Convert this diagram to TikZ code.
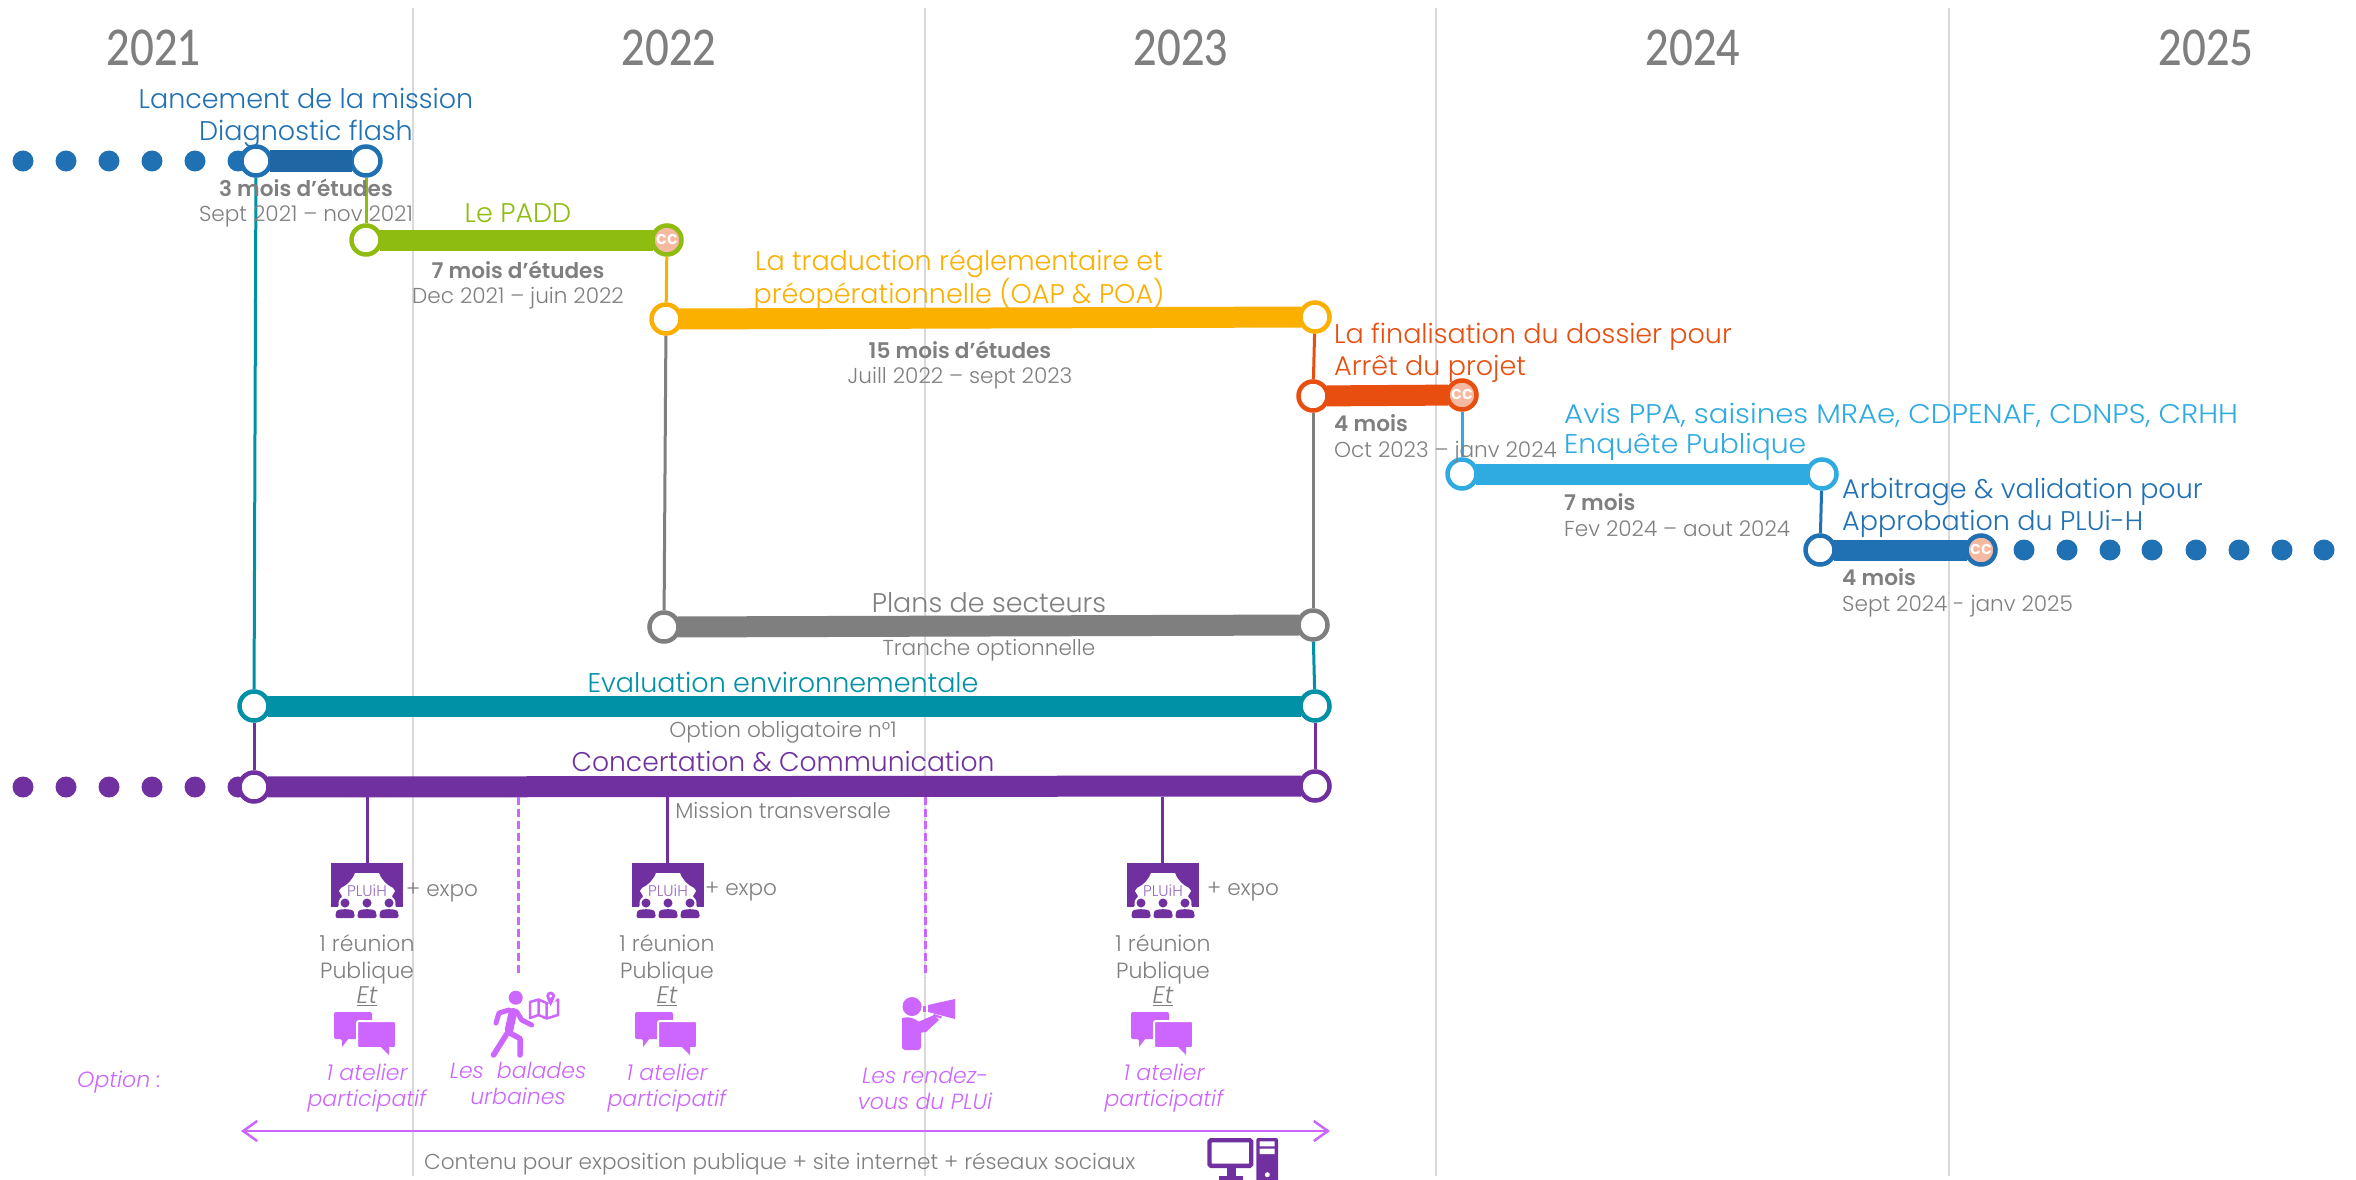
\documentclass[tikz,border=0pt]{standalone}
\usepackage{fontspec}
\setmainfont{Poppins}[UprightFont=* Light,BoldFont=* SemiBold,ItalicFont=* Light Italic]
\newfontfamily\yearfont{Lato Medium}
\usetikzlibrary{arrows.meta}
\definecolor{cblue}{HTML}{2070B4}
\definecolor{cbar}{HTML}{1F66A4}
\definecolor{cgreen}{HTML}{8FBC11}
\definecolor{corange}{HTML}{FBB000}
\definecolor{cred}{HTML}{E84E0F}
\definecolor{clight}{HTML}{2FABE2}
\definecolor{cgray}{HTML}{7F7F7F}
\definecolor{cteal}{HTML}{0091A6}
\definecolor{cpurple}{HTML}{7030A0}
\definecolor{cviolet}{HTML}{CC66FF}
\definecolor{cpeach}{HTML}{F5B8A0}
\definecolor{cgrid}{HTML}{D9D9D9}
\tikzset{
  ring/.style={circle,draw=#1,line width=4.5pt,fill=white,minimum size=29pt,inner sep=0pt},
  ccring/.style={circle,draw=#1,line width=4.5pt,fill=cpeach,minimum size=29pt,inner sep=0pt,text=white,font=\fontsize{18}{18}\selectfont\bfseries},
  dot/.style={circle,fill=#1,minimum size=21pt,inner sep=0pt},
  bar/.style={line width=21pt,draw=#1,shorten >=-3pt,shorten <=-3pt},
  link/.style={line width=3pt,draw=#1},
  grid/.style={line width=2.5pt,draw=cgrid},
  year/.style={text=cgray,font=\fontsize{49}{49}\selectfont\yearfont,xscale=.84,inner sep=0pt},
  title/.style={text=#1,font=\fontsize{27}{32}\selectfont,align=center,inner sep=0pt},
  lefttitle/.style={text=#1,font=\fontsize{27}{32}\selectfont,align=left,anchor=west,inner sep=0pt},
  sub/.style={text=cgray,font=\fontsize{21.6}{25.5}\selectfont,align=center,inner sep=0pt},
  leftsub/.style={text=cgray,font=\fontsize{21.6}{25.5}\selectfont,align=left,anchor=west,inner sep=0pt},
  small/.style={text=cgray,font=\fontsize{22}{27}\selectfont,align=center,inner sep=0pt},
  opt/.style={text=cviolet,font=\fontsize{22}{26}\selectfont\itshape,align=center,inner sep=0pt},
  theatre/.pic={
    \fill[cpurple] (-36,0) rectangle (36,44);
    \fill[white] (-12,10) -- (12,10) .. controls (15,18) and (20,22) .. (26,25) -- (28,28) -- (25,33) -- (29,44) -- (-29,44) -- (-25,33) -- (-28,28) -- (-26,25) .. controls (-20,22) and (-15,18) .. (-12,10) -- cycle;
    \node[text=cpurple!70,font=\fontsize{15.5}{15.5}\selectfont,inner sep=0pt] at (0,28) {PLUiH};
    \foreach \p in {-22,0,22}{
      \fill[white] (\p,40) circle (6.5);
      \fill[cpurple] (\p,40) circle (4.5);
      \fill[white] (\p-11,55.5) -- (\p-11,51) .. controls (\p-11,44) and (\p+11,44) .. (\p+11,51) -- (\p+11,55.5) -- cycle;
      \fill[cpurple,rounded corners=2pt] (\p-9.5,55) -- (\p-9.5,50) .. controls (\p-7,45.5) and (\p+7,45.5) .. (\p+9.5,50) -- (\p+9.5,55) -- cycle;
    }
  },
  chat/.pic={
    \fill[cviolet,rounded corners=2pt] (0,0) -- (38,0) -- (38,27) -- (13,27) -- (13,27) -- (8,35) -- (8,27) -- (0,27) -- cycle;
    \fill[cviolet] (8,26) -- (15,26) -- (8,35) -- cycle;
    \draw[white,line width=2pt,fill=cviolet,rounded corners=2pt] (23,9) -- (62,9) -- (62,36) -- (23,36) -- cycle;
    \fill[cviolet] (47,35) -- (55,35) -- (55,43) -- cycle;
  },
  walker/.pic={
    \fill[cviolet] (25.7,6.7) circle (7);
    \draw[cviolet,line width=8.5pt,line cap=round,line join=round] (23,21) -- (19,39);
    \draw[cviolet,line width=5.5pt,line cap=round,line join=round] (18,41) -- (3.5,64);
    \draw[cviolet,line width=5.5pt,line cap=round,line join=round] (18,41) -- (30,47.5) -- (30,64);
    \draw[cviolet,line width=5pt,line cap=round,line join=round] (19,19) -- (9,22) -- (6,32);
    \draw[cviolet,line width=5pt,line cap=round,line join=round] (26.7,20.7) -- (31.7,29) -- (41.7,34);
    \draw[cviolet,line width=2.5pt,line join=round] (40,11) -- (48.5,8.5) -- (56.5,12) -- (68,8.5) -- (68,24) -- (56.5,27.5) -- (48.5,24) -- (40,27) -- cycle (48.5,8.5) -- (48.5,24) (56.5,12) -- (56.5,27.5);
    \fill[white] (60.7,6) circle (6);
    \fill[cviolet] (60.7,5) circle (4.5) (57,7.5) -- (64.4,7.5) -- (60.7,15) -- cycle;
    \fill[white] (60.7,5) circle (1.7);
  },
  megaphone/.pic={
    \fill[cviolet] (10,9.5) circle (9.5);
    \fill[cviolet,rounded corners=3pt] (0,53) -- (0,24) .. controls (0,21) and (5,20) .. (10,21) -- (15,23) -- (19,27) -- (19,53) -- cycle;
    \fill[cviolet,line join=round] (16,25) -- (32,18) -- (37,23) -- (24,35) -- (16,36) -- cycle;
    \fill[cviolet] (26,8) -- (53,2) -- (53,22) -- (26,15) -- cycle;
    \fill[cviolet] (21,8.5) rectangle (24,15);
    \fill[cviolet] (32,17) -- (40,19.5) -- (39,21.5) -- (31,19) -- cycle;
  },
  computer/.pic={
    \draw[cpurple,line width=4.4pt,rounded corners=1.5pt,fill=white] (2.5,2.2) rectangle (44.2,27.8);
    \fill[cpurple] (20,30) rectangle (29,38);
    \fill[cpurple] (11.5,38) rectangle (35.5,41.5);
    \fill[cpurple,rounded corners=2pt] (49.3,0) rectangle (71,48);
    \fill[white] (52.7,3.3) rectangle (67.7,8.3) (52.7,10.7) rectangle (67.7,16);
    \fill[white] (60.3,36.7) circle (2.5);
  }
}
\begin{document}
\begin{tikzpicture}[x=1pt,y=-1pt]
\useasboundingbox (0,0) rectangle (2356,1180);
\fill[white] (0,0) rectangle (2356,1180);
% grid
\foreach \n/\x in {a/413,b/925,c/1436,d/1949}{
  \coordinate (gt\n) at (\x,8);
  \coordinate (gb\n) at (\x,1176);
  \draw[grid] (gt\n) -- (gb\n);
}
% years
\node[year] (y1) at (154,48) {2021};
\node[year] (y2) at (669,48) {2022};
\node[year] (y3) at (1181,48) {2023};
\node[year] (y4) at (1693,48) {2024};
\node[year] (y5) at (2206,48) {2025};
% dots
\foreach \x [count=\i] in {23,66,109,152,195,238}{
  \node[dot=cblue] (bd\i) at (\x,161) {};
  \node[dot=cpurple] (pd\i) at (\x,787) {};
}
\foreach \x [count=\i] in {2024,2067,2110,2152,2196,2239,2282,2324}{
  \node[dot=cblue] (ed\i) at (\x,550) {};
}
% circles
\node[ring=cblue] (b1) at (256,161) {};
\node[ring=cblue] (b2) at (366,161) {};
\node[ring=cgreen] (g1) at (366,240) {};
\node[ccring=cgreen] (g2) at (667,240) {cc};
\node[ring=corange] (o1) at (666,319) {};
\node[ring=corange] (o2) at (1315,317) {};
\node[ring=cred] (r1) at (1313,396) {};
\node[ccring=cred] (r2) at (1462,395) {cc};
\node[ring=clight] (l1) at (1462,474) {};
\node[ring=clight] (l2) at (1822,474) {};
\node[ring=cblue] (f1) at (1820,550) {};
\node[ccring=cblue] (f2) at (1981,550) {cc};
\node[ring=cgray] (s1) at (664,627) {};
\node[ring=cgray] (s2) at (1313,625) {};
\node[ring=cteal] (t1) at (254,706) {};
\node[ring=cteal] (t2) at (1315,706) {};
\node[ring=cpurple] (p1) at (254,787) {};
\node[ring=cpurple] (p2) at (1315,786) {};
% bars
\draw[bar=cbar] (b1) -- (b2);
\draw[bar=cgreen] (g1) -- (g2);
\draw[bar=corange] (o1) -- (o2);
\draw[bar=cred] (r1) -- (r2);
\draw[bar=clight] (l1) -- (l2);
\draw[bar=cblue] (f1) -- (f2);
\draw[bar=cgray] (s1) -- (s2);
\draw[bar=cteal] (t1) -- (t2);
\draw[bar=cpurple] (p1) -- (p2);
% links
\draw[link=cteal] (b1) -- (t1);
\draw[link=cgreen] (b2) -- (g1);
\draw[link=corange] (g2) -- (o1);
\draw[link=cgray] (o1) -- (s1);
\draw[link=cred] (o2) -- (r1);
\draw[link=cgray] (r1) -- (s2);
\draw[link=cteal] (s2) -- (t2);
\draw[link=cpurple] (t2) -- (p2);
\draw[link=cpurple] (t1) -- (p1);
\draw[link=clight] (r2) -- (l1);
\draw[link=cblue] (l2) -- (f1);
% labels
\node[title=cblue] (n1) at (306,118) {Lancement de la mission\\Diagnostic flash};
\node[sub] (n2) at (306,203) {\textbf{3 mois d’études}\\Sept 2021 – nov 2021};
\node[title=cgreen] (n3) at (518,213) {Le PADD};
\node[sub] (n4) at (518,285) {\textbf{7 mois d’études}\\Dec 2021 – juin 2022};
\node[title=corange] (n5) at (959,280) {La traduction réglementaire et\\préopérationnelle (OAP \& POA)};
\node[sub] (n6) at (960,365) {\textbf{15 mois d’études}\\Juill 2022 – sept 2023};
\node[lefttitle=cred] (n7) at (1334,353) {La finalisation du dossier pour\\Arrêt du projet};
\node[leftsub] (n8) at (1334,439) {\textbf{4 mois}\\Oct 2023 – janv 2024};
\node[lefttitle=clight,xscale=1.082] (n9) at (1564,415) {Avis PPA, saisines MRAe, CDPENAF, CDNPS, CRHH};
\node[lefttitle=clight,xscale=1.045] (n9b) at (1564,447) {Enquête Publique};
\node[leftsub] (n10) at (1564,515) {\textbf{7 mois}\\Fev 2024 – aout 2024};
\node[lefttitle=cblue] (n11) at (1842,508) {Arbitrage \& validation pour\\Approbation du PLUi-H};
\node[leftsub] (n12) at (1842,593) {\textbf{4 mois}\\Sept 2024 - janv 2025};
\node[title=cgray] (n13) at (989,603) {Plans de secteurs};
\node[sub] (n14) at (989,650) {Tranche optionnelle};
\node[title=cteal] (n15) at (783,682) {Evaluation environnementale};
\node[sub] (n16) at (783,732) {Option obligatoire n°1};
\node[title=cpurple,xscale=.985] (n17) at (783,762) {Concertation \& Communication};
\node[sub] (n18) at (783,810) {Mission transversale};
% communication stems
\coordinate (e1) at (367,865);
\coordinate (e2) at (667,865);
\coordinate (e3) at (1162,865);
\coordinate (q1) at (518,797);
\coordinate (q2) at (518,974);
\coordinate (q3) at (925,797);
\coordinate (q4) at (925,977);
\coordinate (e1t) at (367,797);
\coordinate (e2t) at (667,797);
\coordinate (e3t) at (1162,797);
\draw[link=cpurple] (e1t) -- (e1);
\draw[link=cpurple] (e2t) -- (e2);
\draw[link=cpurple] (e3t) -- (e3);
\draw[line width=3pt,draw=cviolet,dash pattern=on 8pt off 4pt] (q1) -- (q2);
\draw[line width=3pt,draw=cviolet,dash pattern=on 8pt off 4pt] (q3) -- (q4);
% icons
\pic at (367,863) {theatre};
\pic at (668,863) {theatre};
\pic at (1163,863) {theatre};
\pic at (334,1012) {chat};
\pic at (635,1012) {chat};
\pic at (1131,1012) {chat};
\pic at (490,991) {walker};
\pic at (902,997) {megaphone};
\pic at (1207,1138) {computer};
% event text
\node[sub,anchor=west] (x1) at (406,893) {+ expo};
\node[sub,anchor=west] (x2) at (705,892) {+ expo};
\node[sub,anchor=west] (x3) at (1207,892) {+ expo};
\node[small] (u1) at (367,959.5) {1 réunion\\Publique};
\node[small] (u2) at (667,959.5) {1 réunion\\Publique};
\node[small] (u3) at (1163,959.5) {1 réunion\\Publique};
\node[small,font=\fontsize{24}{27}\selectfont] (v1) at (367,996) {\itshape\underline{Et}};
\node[small,font=\fontsize{24}{27}\selectfont] (v2) at (667,996) {\itshape\underline{Et}};
\node[small,font=\fontsize{24}{27}\selectfont] (v3) at (1163,996) {\itshape\underline{Et}};
\node[opt] (w1) at (367,1088) {1 atelier\\participatif};
\node[opt] (w2) at (667,1088) {1 atelier\\participatif};
\node[opt] (w3) at (1164,1088) {1 atelier\\participatif};
\node[opt] (w4) at (518,1083) {Les\ \ balades\\urbaines};
\node[opt] (w5) at (925,1088) {Les rendez-\\vous du PLUi};
\node[opt] (w6) at (119,1082) {Option :};
\coordinate (a1) at (241,1131);
\coordinate (a2) at (1330,1131);
\draw[cviolet,line width=2.5pt,{Straight Barb[length=14pt,width=20pt]}-{Straight Barb[length=14pt,width=20pt]}] (a1) -- (a2);
\node[sub,anchor=west] (c1) at (424,1164) {Contenu pour exposition publique + site internet + réseaux sociaux};
\end{tikzpicture}
\end{document}
